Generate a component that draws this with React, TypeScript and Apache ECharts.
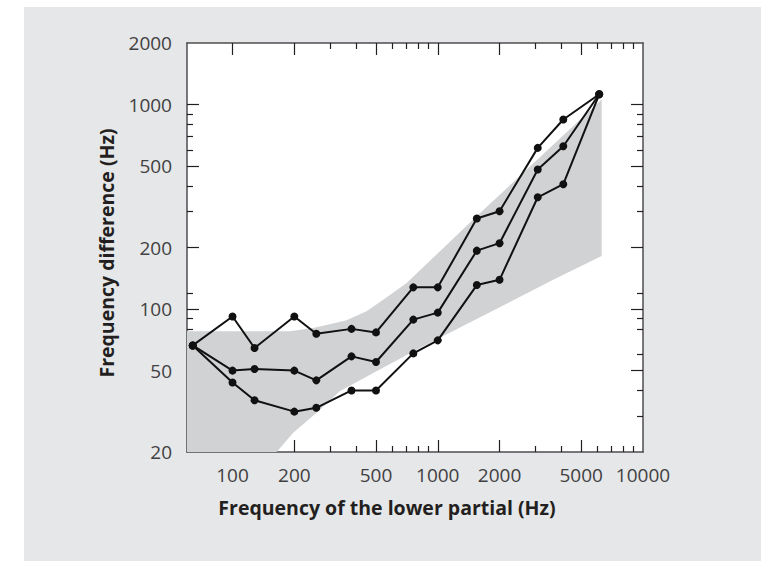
import React, { useEffect, useRef } from "react";
import * as echarts from "echarts";

// Frequencies of the lower partial (Hz)
const X_FREQ = [64, 100, 128, 200, 256, 380, 500, 760, 1000, 1550, 2000, 3070, 4090, 6120];
// Frequency differences (Hz) for the three curves
const UPPER = [66.4, 92, 64.5, 92, 75.8, 80, 76.9, 127.7, 127.7, 277, 301, 614, 845, 1123];
const MIDDLE = [66.4, 50, 50.9, 50, 44.8, 58.7, 55.1, 88.8, 96.1, 193, 210, 481, 625, 1123];
const LOWER = [66.4, 43.7, 35.8, 31.5, 32.9, 40, 40, 60.7, 70.3, 131, 139, 352, 408, 1123];

// Shaded band outline (x, y), traced around the region
const BAND_X = [60, 190, 247, 309, 359, 450, 542, 606, 705, 1546, 6290, 6290, 3650, 818, 503, 333, 256, 197, 164, 60];
const BAND_Y = [78, 78, 80.8, 84.9, 88.1, 97.5, 111, 120, 134, 284, 1058, 182, 139, 64.5, 49.6, 39.6, 31, 24.8, 20, 20];

// Axis ranges and ticks
const X_MIN = 60;
const X_MAX = 10000;
const Y_MIN = 20;
const Y_MAX = 2000;
const X_LABELS = [100, 200, 500, 1000, 2000, 5000, 10000];
const X_MAJOR_TICKS = [100, 200, 500, 1000, 2000, 5000];
const X_MINOR_TICKS = [300, 400, 600, 700, 800, 900, 3000, 4000, 6000, 7000, 8000, 9000];
const Y_LABELS = [20, 50, 100, 200, 500, 1000, 2000];
const Y_MAJOR_TICKS = [50, 100, 200, 500, 1000];
const Y_MINOR_TICKS = [30, 40, 60, 80, 90, 120, 300, 400, 600, 700, 800, 900];

const X_TITLE = "Frequency of the lower partial (Hz)";
const Y_TITLE = "Frequency difference (Hz)";

const lg = Math.log10;
const FONT = "Open Sans";
const TICK_COLOR = "#231f20";
const AXIS_COLOR = "#4d4d4f";

function makeAxis(
  position: string,
  ticks: number[] | null,
  tickLen: number,
  min: number,
  max: number,
  opts: { labels?: number[]; line?: boolean; margin?: number } = {}
) {
  return {
    type: "value",
    gridIndex: 0,
    position,
    min: lg(min),
    max: lg(max),
    splitLine: { show: false },
    axisLine: {
      show: !!opts.line,
      onZero: false,
      lineStyle: { color: AXIS_COLOR, width: 1.5 },
    },
    axisTick: ticks
      ? {
          show: true,
          inside: true,
          length: tickLen,
          customValues: ticks.map(lg),
          lineStyle: { color: TICK_COLOR, width: 1.2 },
        }
      : { show: false },
    axisLabel: opts.labels
      ? {
          show: true,
          customValues: opts.labels.map(lg),
          formatter: (v: number) => String(Math.round(Math.pow(10, v))),
          fontFamily: FONT,
          fontSize: 19,
          color: "#414042",
          margin: opts.margin ?? 14,
        }
      : { show: false },
  };
}

function lineSeries(name: string, values: number[]) {
  return {
    name,
    type: "line",
    xAxisIndex: 0,
    yAxisIndex: 0,
    data: X_FREQ.map((x, i) => [lg(x), lg(values[i])]),
    symbol: "circle",
    symbolSize: 8,
    itemStyle: { color: "#111" },
    lineStyle: { color: "#111", width: 2 },
    z: 5,
  };
}

export default function App() {
  const ref = useRef<HTMLDivElement>(null);

  useEffect(() => {
    if (!ref.current) return;
    const chart = echarts.init(ref.current, null, { renderer: "svg" });
    const titleStyle = { fontFamily: FONT, fontWeight: "bold", fontSize: 19.5, fill: "#231f20" };
    const option: any = {
      animation: false,
      grid: {
        left: 187,
        top: 43,
        width: 456,
        height: 409,
        show: true,
        backgroundColor: "#ffffff",
        borderWidth: 0,
      },
      graphic: [
        {
          type: "text",
          x: 387,
          y: 507,
          style: { ...titleStyle, text: X_TITLE, align: "center", verticalAlign: "middle" },
        },
        {
          type: "text",
          x: 106,
          y: 253,
          rotation: Math.PI / 2,
          style: { ...titleStyle, text: Y_TITLE, align: "center", verticalAlign: "middle" },
        },
      ],
      xAxis: [
        makeAxis("bottom", null, 0, X_MIN, X_MAX, { labels: X_LABELS, line: true, margin: 13 }),
        makeAxis("bottom", X_MAJOR_TICKS, 12, X_MIN, X_MAX),
        makeAxis("bottom", X_MINOR_TICKS, 6, X_MIN, X_MAX),
        makeAxis("top", X_MAJOR_TICKS, 12, X_MIN, X_MAX, { line: true }),
        makeAxis("top", X_MINOR_TICKS, 6, X_MIN, X_MAX),
      ],
      yAxis: [
        makeAxis("left", null, 0, Y_MIN, Y_MAX, { labels: Y_LABELS, line: true, margin: 15 }),
        makeAxis("left", Y_MAJOR_TICKS, 12, Y_MIN, Y_MAX),
        makeAxis("left", Y_MINOR_TICKS, 6, Y_MIN, Y_MAX),
        makeAxis("right", Y_MAJOR_TICKS, 12, Y_MIN, Y_MAX, { line: true }),
        makeAxis("right", Y_MINOR_TICKS, 6, Y_MIN, Y_MAX),
      ],
      series: [
        {
          type: "custom",
          xAxisIndex: 0,
          yAxisIndex: 0,
          silent: true,
          z: 1,
          data: [[lg(X_MIN), lg(Y_MIN)]],
          renderItem: (_params: any, api: any) => {
            const pts = BAND_X.map((x, i) => api.coord([lg(x), lg(BAND_Y[i])]));
            return {
              type: "polygon",
              shape: { points: pts },
              style: { fill: "#d1d2d4", stroke: "none" },
            };
          },
        },
        lineSeries("upper", UPPER),
        lineSeries("middle", MIDDLE),
        lineSeries("lower", LOWER),
      ],
    };
    chart.setOption(option);
    return () => chart.dispose();
  }, []);

  return (
    <div style={{ position: "fixed", left: 0, top: 0, width: 761, height: 561, background: "#ffffff" }}>
      <div style={{ position: "absolute", left: 24, top: 7, right: 0, bottom: 0, background: "#e6e7e8" }} />
      <div ref={ref} style={{ position: "absolute", left: 0, top: 0, width: 761, height: 561 }} />
    </div>
  );
}
